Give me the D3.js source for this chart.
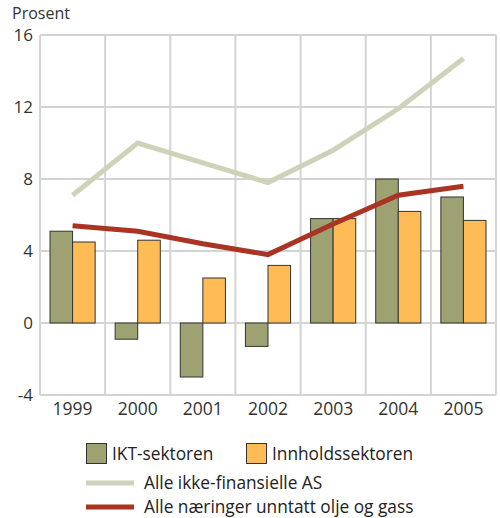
<!DOCTYPE html>
<html>
<head>
<meta charset="utf-8">
<script src="https://cdn.jsdelivr.net/npm/d3@7"></script>
<style>
  body { margin: 0; background: #fff; }
  svg { font-family: "Open Sans", "DejaVu Sans", sans-serif; }
</style>
</head>
<body>
<svg width="500" height="518"></svg>
<script>
// data
const years = ["1999", "2000", "2001", "2002", "2003", "2004", "2005"];
const ikt = [5.1, -0.9, -3.0, -1.3, 5.8, 8.0, 7.0];
const innhold = [4.5, 4.6, 2.5, 3.2, 5.8, 6.2, 5.7];
const alleAS = [7.1, 10.0, 8.9, 7.8, 9.6, 11.9, 14.7];
const alleNaer = [5.4, 5.1, 4.4, 3.8, 5.5, 7.1, 7.6];
const yTicks = [-4, 0, 4, 8, 12, 16];

const green = "#9ea272", orange = "#ffbb55", paleLine = "#cfd2b8", redLine = "#a93424";

const svg = d3.select("svg");
// plot area (note: "top" would clash with window.top)
const plotLeft = 40, plotRight = 496, plotTop = 35, plotBottom = 395;

const x = d3.scaleBand().domain(years).range([plotLeft, plotRight]);
const y = d3.scaleLinear().domain([-4, 16]).range([plotBottom, plotTop]);

// grid
let grid = svg.append("g");
grid.selectAll(".h")
    .data(yTicks)
    .enter().append("line")
    .attr("x1", plotLeft).attr("x2", plotRight)
    .attr("y1", d => y(d)).attr("y2", d => y(d))
    .attr("stroke", "#d3d3d3").attr("stroke-width", 2);
let edges = years.map(d => x(d)).concat([plotRight]);
grid.selectAll(".v")
    .data(edges)
    .enter().append("line")
    .attr("x1", d => d).attr("x2", d => d)
    .attr("y1", plotTop).attr("y2", plotBottom)
    .attr("stroke", "#d3d3d3").attr("stroke-width", 2);

// bars
let pad = 10;
let bw = (x.bandwidth() - 2 * pad) / 2;
let bars = svg.append("g");
bars.selectAll(".ikt")
    .data(ikt)
    .enter().append("rect")
    .attr("x", (d, i) => x(years[i]) + pad)
    .attr("y", d => y(Math.max(0, d)))
    .attr("width", bw)
    .attr("height", d => Math.abs(y(d) - y(0)))
    .attr("fill", green).attr("stroke", "#333").attr("stroke-width", 1);
bars.selectAll(".inn")
    .data(innhold)
    .enter().append("rect")
    .attr("x", (d, i) => x(years[i]) + pad + bw)
    .attr("y", d => y(Math.max(0, d)))
    .attr("width", bw)
    .attr("height", d => Math.abs(y(d) - y(0)))
    .attr("fill", orange).attr("stroke", "#333").attr("stroke-width", 1);

// lines
let line = d3.line()
    .x((d, i) => x(years[i]) + x.bandwidth() / 2)
    .y(d => y(d));
svg.append("path").datum(alleAS)
    .attr("d", line).attr("fill", "none")
    .attr("stroke", paleLine).attr("stroke-width", 5);
svg.append("path").datum(alleNaer)
    .attr("d", line).attr("fill", "none")
    .attr("stroke", redLine).attr("stroke-width", 5);

// axes text
svg.append("g").selectAll("text")
    .data(yTicks)
    .enter().append("text")
    .attr("x", 33).attr("y", d => y(d) + 6)
    .attr("text-anchor", "end")
    .style("font-size", "17px").attr("fill", "#333")
    .text(d => d);
svg.append("g").selectAll("text")
    .data(years)
    .enter().append("text")
    .attr("x", d => x(d) + x.bandwidth() / 2).attr("y", 415)
    .attr("text-anchor", "middle")
    .style("font-size", "17.5px").attr("fill", "#333")
    .text(d => d);
svg.append("text")
    .attr("x", 12).attr("y", 19)
    .style("font-size", "16px").attr("fill", "#333")
    .text("Prosent");

// legend
let legend = svg.append("g").style("font-size", "17.3px").attr("fill", "#222");
legend.append("rect").attr("x", 86.5).attr("y", 443.5).attr("width", 20).attr("height", 20)
    .attr("fill", green).attr("stroke", "#333");
legend.append("text").attr("x", 112).attr("y", 460).text("IKT-sektoren");
legend.append("rect").attr("x", 246.5).attr("y", 443.5).attr("width", 20).attr("height", 20)
    .attr("fill", orange).attr("stroke", "#333");
legend.append("text").attr("x", 272).attr("y", 460).text("Innholdssektoren");
legend.append("line").attr("x1", 86).attr("x2", 134).attr("y1", 483).attr("y2", 483)
    .attr("stroke", paleLine).attr("stroke-width", 5);
legend.append("text").attr("x", 144).attr("y", 489).text("Alle ikke-finansielle AS");
legend.append("line").attr("x1", 86).attr("x2", 134).attr("y1", 507).attr("y2", 507)
    .attr("stroke", redLine).attr("stroke-width", 5);
legend.append("text").attr("x", 144).attr("y", 513).text("Alle næringer unntatt olje og gass");
</script>
</body>
</html>
